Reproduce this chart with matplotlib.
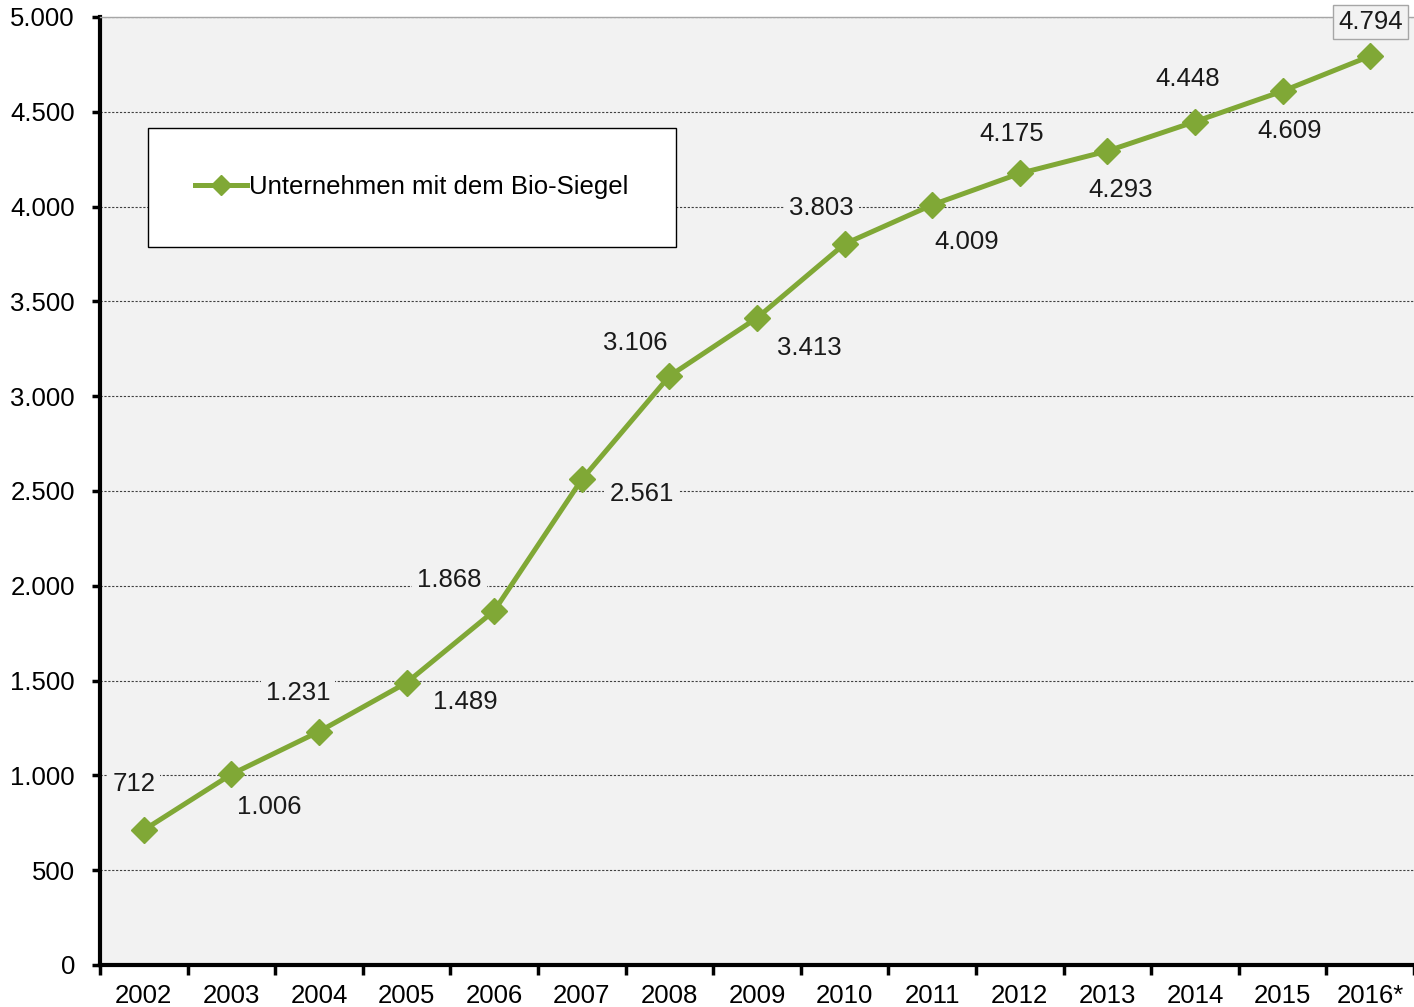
import matplotlib.pyplot as plt
from matplotlib.ticker import FuncFormatter, MultipleLocator, FixedLocator

plt.rcParams['font.family'] = ['Liberation Sans', 'DejaVu Sans']

years = ['2002', '2003', '2004', '2005', '2006', '2007', '2008', '2009',
         '2010', '2011', '2012', '2013', '2014', '2015', '2016*']
companies = [712, 1006, 1231, 1489, 1868, 2561, 3106, 3413,
             3803, 4009, 4175, 4293, 4448, 4609, 4794]
series_name = 'Unternehmen mit dem Bio-Siegel'

# label offsets in pixels (dx, dy), style only
label_offsets = [(-10, 46), (38, -33), (-21, 39), (59, -19), (-45, 31),
                 (60, -15), (-34, 33), (52, -30), (-23, 36), (34, -37),
                 (-8, 39), (13, -39), (-7, 43), (7, -40), (0, 34)]

green = '#80a836'
fs = 18.5

def de_fmt(v, pos=None):
    return f'{int(round(v)):,}'.replace(',', '.')

fig = plt.figure(figsize=(14.14, 10.07), dpi=100)
ax = fig.add_axes([100 / 1414, 1 - 965 / 1007, 1314 / 1414, 948 / 1007])
ax.set_facecolor('#f2f2f2')

x = list(range(len(years)))
ax.plot(x, companies, color=green, lw=3.6, marker='D', ms=13,
        mec=green, mfc=green, label=series_name, zorder=4)

for i, (v, off) in enumerate(zip(companies, label_offsets)):
    edge = '#a6a6a6' if i == len(companies) - 1 else 'none'
    ax.annotate(de_fmt(v), (i, v), xytext=off, textcoords='offset pixels',
                ha='center', va='center', fontsize=fs, color='#1a1a1a',
                bbox=dict(boxstyle='square,pad=0.2', fc='#f2f2f2', ec=edge, lw=1),
                zorder=5, annotation_clip=False)

ax.set_xlim(-0.5, len(years) - 0.5)
ax.set_ylim(0, 5000)
ax.yaxis.set_major_locator(MultipleLocator(500))
ax.yaxis.set_major_formatter(FuncFormatter(de_fmt))
ax.grid(axis='y', color='#404040', ls=(0, (2, 1.5)), lw=0.8)
ax.set_axisbelow(True)

ax.set_xticks(x)
ax.set_xticklabels(years)
ax.xaxis.set_minor_locator(FixedLocator([k - 0.5 for k in range(len(years) + 1)]))
ax.tick_params(axis='x', which='major', length=0, pad=14, labelsize=fs)
ax.tick_params(axis='x', which='minor', length=7, width=2.5, direction='out')
ax.tick_params(axis='y', which='major', length=6, width=2.5, direction='out',
               labelsize=fs, pad=12)

for s in ['left', 'bottom']:
    ax.spines[s].set_linewidth(3)
    ax.spines[s].set_color('black')
ax.spines['top'].set_color('#a6a6a6')
ax.spines['top'].set_linewidth(1)
ax.spines['right'].set_visible(False)

leg = ax.legend(loc='upper left', bbox_to_anchor=(0.0365, 0.883), borderaxespad=0,
                fontsize=fs, frameon=True, fancybox=False, borderpad=1.85,
                handlelength=2.0, handletextpad=0.1, markerscale=0.8)
leg.get_frame().set_edgecolor('black')
leg.get_frame().set_facecolor('white')
leg.get_frame().set_alpha(1)
leg.get_frame().set_linewidth(1)

fig.savefig('out.png', dpi=100, facecolor='white')
